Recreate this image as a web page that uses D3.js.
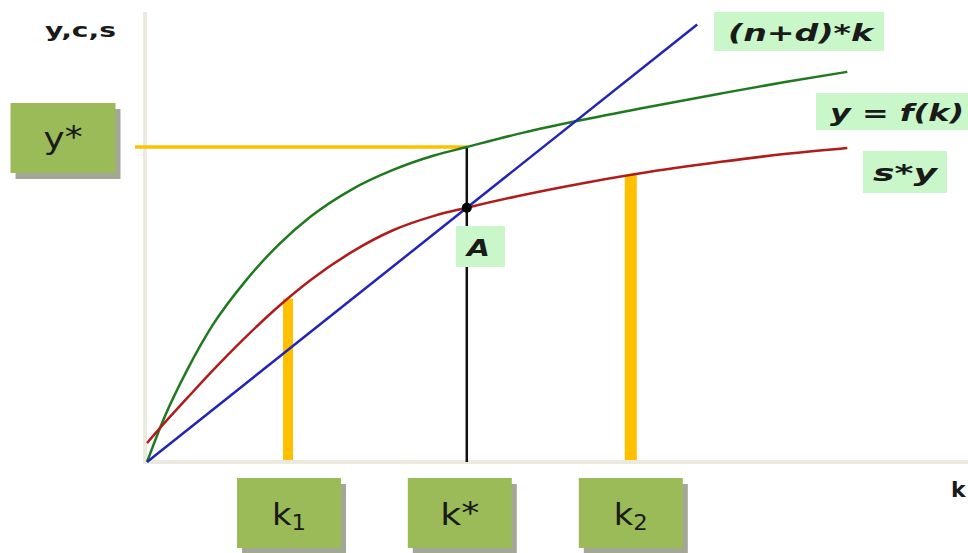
<!DOCTYPE html>
<html>
<head>
<meta charset="utf-8">
<script src="https://cdn.jsdelivr.net/npm/d3@7"></script>
<style>
  html, body { margin: 0; padding: 0; background: #ffffff; }
  svg { display: block; }
</style>
</head>
<body>
<svg id="chart" width="968" height="553"></svg>
<script>
// Solow growth model: output, savings and break-even investment per worker
const kGrid = [0, 2, 5, 8, 12, 16, 20, 25, 30, 35, 39, 45, 53, 60, 70, 78, 85.4];
const outputY = [0, 9.4, 20.8, 30.4, 40.2, 48.2, 54.6, 60.6, 64.9, 68.1, 70.0, 72.8, 76.0, 78.5, 81.9, 84.5, 86.7];
const savingsSY = [4.2, 8.4, 14.4, 20.3, 27.7, 34.5, 40.5, 46.7, 51.5, 54.7, 56.5, 59.0, 61.9, 64.1, 66.7, 68.5, 69.8];
const breakEvenK = [0, 67.1];
const breakEvenY = [0, 97.2];

// Capital levels marked on the k axis and the heights their guide bars reach
const kMarks = ["k1", "k*", "k2"];
const kMarkValues = [17.2, 39, 59];
const kMarkTops = [36.3, 70.0, 63.8];
const yStar = 70.0;
const steadyA = 56.5;

const curveLabels = ["(n+d)*k", "y = f(k)", "s*y"];
const axisLabelY = "y,c,s";
const axisLabelX = "k";

const svg = d3.select("#chart");
const x = d3.scaleLinear().domain([0, 100]).range([147, 967]);
const y = d3.scaleLinear().domain([0, 100]).range([462, 12]);

const font = "'DejaVu Sans', Verdana, sans-serif";

// Axes (plain light strokes, no ticks)
svg.append("line")
  .attr("x1", x(0) - 2).attr("x2", x(0) - 2)
  .attr("y1", y(100)).attr("y2", y(0) + 2)
  .attr("stroke", "#ece9de").attr("stroke-width", 4);
svg.append("line")
  .attr("x1", x(0) - 4).attr("x2", 968)
  .attr("y1", y(0)).attr("y2", y(0))
  .attr("stroke", "#ece9de").attr("stroke-width", 4);

svg.append("text")
  .attr("x", 45).attr("y", 37)
  .attr("font-family", font).attr("font-weight", "bold").attr("font-size", 20)
  .attr("textLength", 71).attr("lengthAdjust", "spacingAndGlyphs")
  .attr("fill", "#1a1a1a").text(axisLabelY);
svg.append("text")
  .attr("x", 951).attr("y", 497)
  .attr("font-family", font).attr("font-weight", "bold").attr("font-size", 22)
  .attr("fill", "#1a1a1a").text(axisLabelX);

// Guides: y* horizontal, k* vertical, k1 and k2 bars
svg.append("line")
  .attr("x1", x(0) - 12).attr("x2", x(kMarkValues[1]))
  .attr("y1", y(yStar)).attr("y2", y(yStar))
  .attr("stroke", "#ffc000").attr("stroke-width", 3.5);

svg.append("line")
  .attr("x1", x(kMarkValues[1])).attr("x2", x(kMarkValues[1]))
  .attr("y1", y(kMarkTops[1])).attr("y2", y(0))
  .attr("stroke", "#111111").attr("stroke-width", 2.5);

const barWidths = [10, 0, 12];
[0, 2].forEach(i => {
  svg.append("rect")
    .attr("x", x(kMarkValues[i]) - barWidths[i] / 2)
    .attr("y", y(kMarkTops[i]))
    .attr("width", barWidths[i])
    .attr("height", y(0) - y(kMarkTops[i]) - 2)
    .attr("fill", "#ffc000");
});

// Curves
const line = d3.line().x(d => x(d[0])).y(d => y(d[1])).curve(d3.curveMonotoneX);
svg.append("path")
  .datum(kGrid.map((k, i) => [k, outputY[i]]))
  .attr("d", line).attr("fill", "none")
  .attr("stroke", "#1f7a1f").attr("stroke-width", 2.5);
svg.append("path")
  .datum(kGrid.map((k, i) => [k, savingsSY[i]]))
  .attr("d", line).attr("fill", "none")
  .attr("stroke", "#b01c1c").attr("stroke-width", 2.5);
svg.append("path")
  .datum(breakEvenK.map((k, i) => [k, breakEvenY[i]]))
  .attr("d", d3.line().x(d => x(d[0])).y(d => y(d[1])))
  .attr("fill", "none")
  .attr("stroke", "#2424b4").attr("stroke-width", 2.5);

// Steady state point A
svg.append("circle")
  .attr("cx", x(kMarkValues[1])).attr("cy", y(steadyA)).attr("r", 5)
  .attr("fill", "#000000");

// Curve labels in light green boxes
const curveBoxes = [
  { x: 714, y: 12, w: 170, h: 39, tx: 728, ty: 41, len: 145 },
  { x: 816, y: 93, w: 152, h: 37, tx: 830, ty: 121, len: 134 },
  { x: 863, y: 151, w: 84, h: 42, tx: 873, ty: 181, len: 64 },
  { x: 456, y: 226, w: 49, h: 41, tx: 467, ty: 256, len: 23, label: "A" }
];
curveBoxes.forEach((b, i) => {
  svg.append("rect")
    .attr("x", b.x).attr("y", b.y).attr("width", b.w).attr("height", b.h)
    .attr("fill", "#c9f7c9");
  svg.append("text")
    .attr("x", b.tx).attr("y", b.ty)
    .attr("font-family", font).attr("font-weight", "bold").attr("font-style", "italic")
    .attr("font-size", 23)
    .attr("textLength", b.len).attr("lengthAdjust", "spacingAndGlyphs")
    .attr("fill", "#1a1a1a")
    .text(b.label || curveLabels[i]);
});

// Olive boxes with drop shadow for y*, k1, k*, k2
function markerBox(cx, cy, w, h, parts, len, base) {
  svg.append("rect")
    .attr("x", cx - w / 2 + 5).attr("y", cy - h / 2 + 6)
    .attr("width", w).attr("height", h).attr("fill", "#a3a795");
  svg.append("rect")
    .attr("x", cx - w / 2).attr("y", cy - h / 2)
    .attr("width", w).attr("height", h).attr("fill", "#9bbb59");
  const t = svg.append("text")
    .attr("x", cx - len / 2).attr("y", cy + base)
    .attr("font-family", font).attr("font-size", 31)
    .attr("textLength", len).attr("lengthAdjust", "spacingAndGlyphs")
    .attr("fill", "#1a1a1a");
  t.append("tspan").text(parts[0]);
  if (parts[1] === "*") {
    t.append("tspan").attr("dy", -2).text("*");
  } else {
    t.append("tspan").attr("font-size", 21).attr("dy", 5).text(parts[1]);
  }
}

markerBox(63, 138, 105, 70, ["y", "*"], 39, 11);
const boxOffsets = [1, -7, 0];
const boxParts = [["k", "1"], ["k", "*"], ["k", "2"]];
const boxTextLen = [34, 39, 34];
kMarkValues.forEach((k, i) => {
  markerBox(x(k) + boxOffsets[i], 513, 104, 70, boxParts[i], boxTextLen[i], 12);
});
</script>
</body>
</html>
